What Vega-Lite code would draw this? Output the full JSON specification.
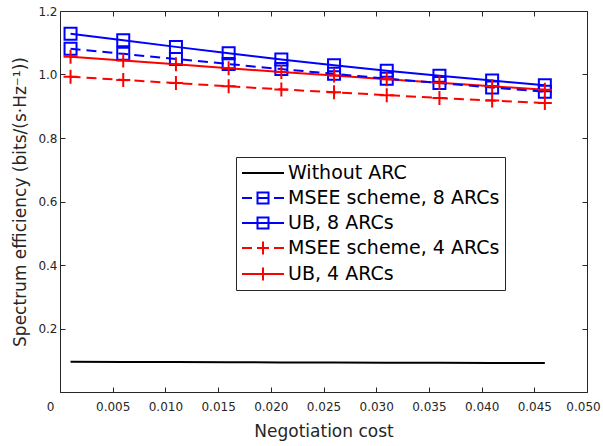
{
  "$schema": "https://vega.github.io/schema/vega-lite/v6.json",
  "width": 527,
  "height": 381,
  "autosize": "none",
  "padding": {"left": 60, "top": 11, "right": 16, "bottom": 54},
  "config": {
    "view": {"stroke": null},
    "font": "DejaVu Sans",
    "axis": {"grid": false, "domainColor": "#262626", "tickColor": "#262626", "labelColor": "#262626", "titleColor": "#262626", "labelFont": "DejaVu Sans", "titleFont": "DejaVu Sans", "labelFontSize": 12, "titleFontSize": 17, "titleFontWeight": "normal", "tickSize": -5, "domainWidth": 1, "tickWidth": 1}
  },
  "data": {
    "values": [
      {"series": "Without ARC", "x": 0.001, "y": 0.095},
      {"series": "Without ARC", "x": 0.006, "y": 0.0946},
      {"series": "Without ARC", "x": 0.011, "y": 0.0941},
      {"series": "Without ARC", "x": 0.016, "y": 0.0937},
      {"series": "Without ARC", "x": 0.021, "y": 0.0932},
      {"series": "Without ARC", "x": 0.026, "y": 0.0928},
      {"series": "Without ARC", "x": 0.031, "y": 0.0924},
      {"series": "Without ARC", "x": 0.036, "y": 0.092},
      {"series": "Without ARC", "x": 0.041, "y": 0.0916},
      {"series": "Without ARC", "x": 0.046, "y": 0.0912},
      {"series": "MSEE scheme, 8 ARCs", "x": 0.001, "y": 1.081},
      {"series": "MSEE scheme, 8 ARCs", "x": 0.006, "y": 1.065},
      {"series": "MSEE scheme, 8 ARCs", "x": 0.011, "y": 1.049},
      {"series": "MSEE scheme, 8 ARCs", "x": 0.016, "y": 1.033},
      {"series": "MSEE scheme, 8 ARCs", "x": 0.021, "y": 1.017},
      {"series": "MSEE scheme, 8 ARCs", "x": 0.026, "y": 1.002},
      {"series": "MSEE scheme, 8 ARCs", "x": 0.031, "y": 0.987},
      {"series": "MSEE scheme, 8 ARCs", "x": 0.036, "y": 0.973},
      {"series": "MSEE scheme, 8 ARCs", "x": 0.041, "y": 0.959},
      {"series": "MSEE scheme, 8 ARCs", "x": 0.046, "y": 0.946},
      {"series": "UB, 8 ARCs", "x": 0.001, "y": 1.128},
      {"series": "UB, 8 ARCs", "x": 0.006, "y": 1.108},
      {"series": "UB, 8 ARCs", "x": 0.011, "y": 1.087},
      {"series": "UB, 8 ARCs", "x": 0.016, "y": 1.067},
      {"series": "UB, 8 ARCs", "x": 0.021, "y": 1.047},
      {"series": "UB, 8 ARCs", "x": 0.026, "y": 1.029},
      {"series": "UB, 8 ARCs", "x": 0.031, "y": 1.012},
      {"series": "UB, 8 ARCs", "x": 0.036, "y": 0.996},
      {"series": "UB, 8 ARCs", "x": 0.041, "y": 0.981},
      {"series": "UB, 8 ARCs", "x": 0.046, "y": 0.966},
      {"series": "MSEE scheme, 4 ARCs", "x": 0.001, "y": 0.993},
      {"series": "MSEE scheme, 4 ARCs", "x": 0.006, "y": 0.983},
      {"series": "MSEE scheme, 4 ARCs", "x": 0.011, "y": 0.973},
      {"series": "MSEE scheme, 4 ARCs", "x": 0.016, "y": 0.963},
      {"series": "MSEE scheme, 4 ARCs", "x": 0.021, "y": 0.953},
      {"series": "MSEE scheme, 4 ARCs", "x": 0.026, "y": 0.944},
      {"series": "MSEE scheme, 4 ARCs", "x": 0.031, "y": 0.935},
      {"series": "MSEE scheme, 4 ARCs", "x": 0.036, "y": 0.926},
      {"series": "MSEE scheme, 4 ARCs", "x": 0.041, "y": 0.918},
      {"series": "MSEE scheme, 4 ARCs", "x": 0.046, "y": 0.91},
      {"series": "UB, 4 ARCs", "x": 0.001, "y": 1.056},
      {"series": "UB, 4 ARCs", "x": 0.006, "y": 1.044},
      {"series": "UB, 4 ARCs", "x": 0.011, "y": 1.032},
      {"series": "UB, 4 ARCs", "x": 0.016, "y": 1.02},
      {"series": "UB, 4 ARCs", "x": 0.021, "y": 1.008},
      {"series": "UB, 4 ARCs", "x": 0.026, "y": 0.997},
      {"series": "UB, 4 ARCs", "x": 0.031, "y": 0.985},
      {"series": "UB, 4 ARCs", "x": 0.036, "y": 0.974},
      {"series": "UB, 4 ARCs", "x": 0.041, "y": 0.963},
      {"series": "UB, 4 ARCs", "x": 0.046, "y": 0.952}
    ]
  },
  "resolve": {"axis": {"x": "independent", "y": "independent"}},
  "layer": [
    {
      "transform": [{"filter": {"field": "series", "oneOf": ["Without ARC", "UB, 8 ARCs", "UB, 4 ARCs"]}}],
      "mark": {"type": "line", "strokeWidth": 2},
      "encoding": {
        "x": {"field": "x", "type": "quantitative", "scale": {"domain": [0, 0.05]},
          "axis": {"orient": "bottom", "values": [0, 0.005, 0.01, 0.015, 0.02, 0.025, 0.03, 0.035, 0.04, 0.045, 0.05],
            "labelExpr": "datum.value === 0 ? '0' : format(datum.value, '.3f')",
            "labelOffset": {"condition": [{"test": "datum.value === 0", "value": -10}, {"test": "datum.value > 0.0499", "value": -4}], "value": 0},
            "labelPadding": 14, "labelFlush": false, "labelOverlap": false, "title": "Negotiation cost", "titlePadding": 11}},
        "y": {"field": "y", "type": "quantitative", "scale": {"domain": [0, 1.2]},
          "axis": {"orient": "left", "values": [0, 0.2, 0.4, 0.6, 0.8, 1.0, 1.2],
            "labelExpr": "datum.value === 0 ? '' : format(datum.value, '.1f')",
            "labelPadding": 8, "title": "Spectrum efficiency (bits/(s·Hz⁻¹))", "titlePadding": 8}},
        "stroke": {"field": "series", "type": "nominal", "legend": null,
          "scale": {"domain": ["UB, 4 ARCs", "MSEE scheme, 4 ARCs", "UB, 8 ARCs", "MSEE scheme, 8 ARCs", "Without ARC"], "range": ["#ff0000", "#ff0000", "#0000ff", "#0000ff", "#000000"]}},
        "detail": {"field": "series"}
      }
    },
    {
      "transform": [{"filter": {"field": "series", "oneOf": ["MSEE scheme, 8 ARCs", "MSEE scheme, 4 ARCs"]}}],
      "mark": {"type": "line", "strokeWidth": 2, "strokeDash": [10, 6]},
      "encoding": {
        "x": {"field": "x", "type": "quantitative", "axis": null},
        "y": {"field": "y", "type": "quantitative", "axis": null},
        "stroke": {"field": "series", "type": "nominal", "legend": null},
        "detail": {"field": "series"}
      }
    },
    {
      "transform": [{"filter": {"field": "series", "oneOf": ["MSEE scheme, 8 ARCs", "UB, 8 ARCs"]}}],
      "mark": {"type": "point", "shape": "square", "filled": false, "size": 144, "strokeWidth": 2, "opacity": 1},
      "encoding": {
        "x": {"field": "x", "type": "quantitative", "axis": null},
        "y": {"field": "y", "type": "quantitative", "axis": null},
        "stroke": {"field": "series", "type": "nominal", "legend": null}
      }
    },
    {
      "transform": [{"filter": {"field": "series", "oneOf": ["MSEE scheme, 4 ARCs", "UB, 4 ARCs"]}}],
      "mark": {"type": "point", "shape": "M-1,0H1M0,-1V1", "filled": false, "size": 196, "strokeWidth": 2, "opacity": 1},
      "encoding": {
        "x": {"field": "x", "type": "quantitative", "axis": null},
        "y": {"field": "y", "type": "quantitative", "axis": null},
        "stroke": {"field": "series", "type": "nominal", "legend": null}
      }
    },
    {
      "mark": {"type": "point", "filled": false, "strokeWidth": 2, "size": 0, "opacity": 1},
      "encoding": {
        "x": {"field": "x", "type": "quantitative", "axis": {"orient": "top", "labels": false, "title": null, "values": [0.005, 0.01, 0.015, 0.02, 0.025, 0.03, 0.035, 0.04, 0.045, 0.05]}},
        "y": {"field": "y", "type": "quantitative", "axis": {"orient": "right", "labels": false, "title": null, "values": [0.2, 0.4, 0.6, 0.8, 1.0, 1.2]}},
        "color": {"field": "series", "type": "nominal",
          "scale": {"domain": ["Without ARC", "MSEE scheme, 8 ARCs", "UB, 8 ARCs", "MSEE scheme, 4 ARCs", "UB, 4 ARCs"], "range": ["#000000", "#0000ff", "#0000ff", "#ff0000", "#ff0000"]},
          "legend": {"orient": "none", "legendX": 176, "legendY": 146, "title": null, "padding": 5, "strokeColor": "#262626", "fillColor": "white", "labelFont": "DejaVu Sans", "labelFontSize": 19, "labelColor": "#000000", "symbolSize": 400, "symbolStrokeWidth": 2, "symbolOffset": 11, "labelOffset": 14, "rowPadding": 4, "symbolFillColor": "transparent", "labelLimit": 400}},
        "shape": {"field": "series", "type": "nominal",
          "scale": {"domain": ["Without ARC", "MSEE scheme, 8 ARCs", "UB, 8 ARCs", "MSEE scheme, 4 ARCs", "UB, 4 ARCs"],
            "range": ["M-2.1,0H2.1", "M-2.1,0H-1.1M-0.5,0H0.5M1.1,0H2.1M-0.55,-0.55H0.55V0.55H-0.55Z", "M-2.1,0H2.1M-0.55,-0.55H0.55V0.55H-0.55Z", "M-2.1,0H-1.1M-0.5,0H0.5M1.1,0H2.1M-0.6,0H0.6M0,-0.65V0.65", "M-2.1,0H2.1M0,-0.65V0.65"]},
          "legend": {"orient": "none", "legendX": 176, "legendY": 146, "title": null, "padding": 5, "strokeColor": "#262626", "fillColor": "white", "labelFont": "DejaVu Sans", "labelFontSize": 19, "labelColor": "#000000", "symbolSize": 400, "symbolStrokeWidth": 2, "symbolOffset": 11, "labelOffset": 14, "rowPadding": 4, "symbolFillColor": "transparent", "labelLimit": 400}}
      }
    }
  ]
}
